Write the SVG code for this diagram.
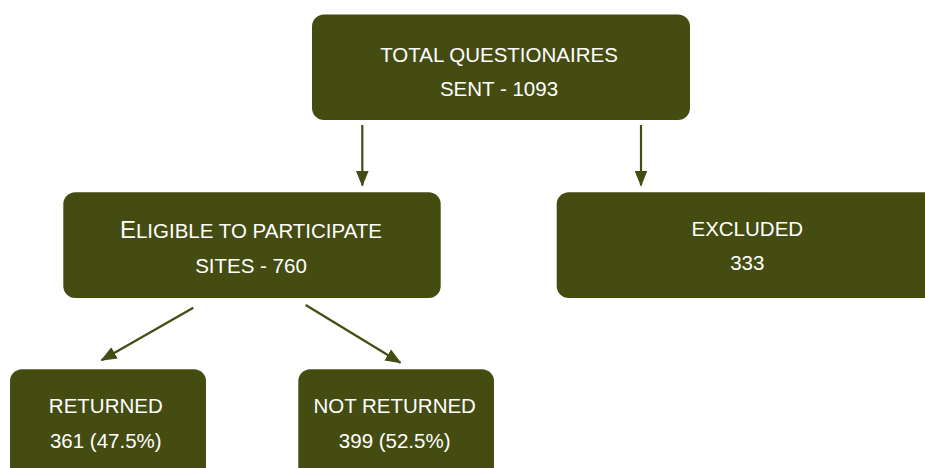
<svg xmlns="http://www.w3.org/2000/svg" width="925" height="468" viewBox="0 0 925 468">
  <defs>
    <style>
      .box { fill: #444c12; }
      .t { fill: #ffffff; font-family: "Liberation Sans", Arial, sans-serif; font-size: 20.5px; text-anchor: middle; }
      .big { font-size: 24px; }
      .conn { stroke: #444c12; stroke-width: 2.2; fill: none; marker-end: url(#ah); }
    </style>
    <marker id="ah" markerUnits="userSpaceOnUse" markerWidth="16" markerHeight="16" viewBox="0 0 16 16" refX="15" refY="8" orient="auto">
      <path d="M0,1.5 L16,8 L0,14.5 Z" fill="#444c12"/>
    </marker>
  </defs>
  <rect width="925" height="468" fill="#ffffff"/>
  <g id="connectors">
    <line class="conn" x1="362.3" y1="125" x2="362.3" y2="185.5"/>
    <line class="conn" x1="641" y1="125" x2="641" y2="185.5"/>
    <line class="conn" x1="193.3" y1="307.7" x2="101.5" y2="360.3"/>
    <line class="conn" x1="305.7" y1="305" x2="400.5" y2="362.8"/>
  </g>
  <g id="total">
    <rect class="box" x="312" y="14.5" width="378" height="105.5" rx="12"/>
    <text class="t" x="499" y="61.5">TOTAL QUESTIONAIRES</text>
    <text class="t" x="499" y="96">SENT - 1093</text>
  </g>
  <g id="eligible">
    <rect class="box" x="63.3" y="192.3" width="377.4" height="105.7" rx="12"/>
    <text class="t" x="251" y="238.3"><tspan class="big">E</tspan>LIGIBLE TO PARTICIPATE</text>
    <text class="t" x="251" y="272.5">SITES - 760</text>
  </g>
  <g id="excluded">
    <rect class="box" x="556.7" y="192.3" width="390" height="105.7" rx="12"/>
    <text class="t" x="747.3" y="236">EXCLUDED</text>
    <text class="t" x="747.3" y="269.5">333</text>
  </g>
  <g id="returned">
    <rect class="box" x="10" y="369.3" width="196" height="120" rx="12"/>
    <text class="t" x="105.8" y="413.3">RETURNED</text>
    <text class="t" x="105.8" y="448">361 (47.5%)</text>
  </g>
  <g id="not-returned">
    <rect class="box" x="298.3" y="369.3" width="195.7" height="120" rx="12"/>
    <text class="t" x="394.7" y="413.3">NOT RETURNED</text>
    <text class="t" x="394.7" y="448">399 (52.5%)</text>
  </g>
</svg>
